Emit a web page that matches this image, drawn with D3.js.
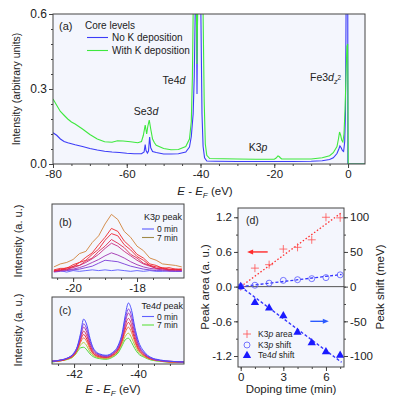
<!DOCTYPE html>
<html>
<head>
<meta charset="utf-8">
<script src="https://cdn.jsdelivr.net/npm/d3@7"></script>
<style>
  body { margin: 0; background: #fff; }
  svg { font-family: Helvetica, Arial, "Liberation Sans", sans-serif; }
  .bg { fill: #f4f6fd; }
  .frame { fill: none; stroke: #444; stroke-width: 1; }
  .axis path { display: none; }
  .axis line { stroke: #444; }
  .axis text { fill: #222; }
</style>
</head>
<body>
<svg id="fig" width="399" height="403"></svg>
<script>
// ---------- data ----------
// (a) core level survey, [E - EF (eV), intensity]
const noKCurve = [[-80,0.125],[-79,0.115],[-78,0.1],[-77,0.09],[-76,0.085],[-74,0.077],[-72,0.07],[-70,0.062],[-68,0.056],[-66,0.051],[-64,0.048],[-62,0.046],[-60,0.043],[-58,0.041],[-56,0.041],[-55.3,0.048],[-55.0,0.078],[-54.8,0.055],[-54.4,0.044],[-54.1,0.052],[-53.8,0.108],[-53.5,0.065],[-53.0,0.05],[-52,0.046],[-50,0.04],[-48,0.04],[-46,0.041],[-44,0.048],[-43,0.068],[-42.5,0.11],[-42.0,0.2],[-41.7,0.35],[-41.45,0.6],[-41.3,0.9],[-41.1,0.6],[-40.95,0.28],[-40.8,0.6],[-40.4,1.0],[-39.9,0.6],[-39.6,0.2],[-39.3,0.07],[-38.9,0.025],[-38.3,0.012],[-36,0.011],[-30,0.01],[-25,0.01],[-20,0.01],[-15,0.01],[-10,0.011],[-7,0.013],[-5,0.018],[-4,0.025],[-3,0.042],[-2.5,0.06],[-2.2,0.072],[-1.9,0.066],[-1.5,0.053],[-1.2,0.05],[-0.9,0.09],[-0.7,0.2],[-0.5,0.7],[-0.3,1.0],[-0.08,1.0],[-0.05,0.0],[4.6,0.0]];
const withKCurve = [[-80,0.26],[-79,0.235],[-78,0.21],[-77,0.195],[-76,0.18],[-75,0.168],[-74,0.16],[-72,0.14],[-70,0.118],[-68,0.1],[-66,0.089],[-64,0.087],[-62.5,0.093],[-61,0.092],[-59,0.089],[-57,0.085],[-56,0.09],[-55.5,0.115],[-55.0,0.156],[-54.6,0.12],[-54.3,0.15],[-53.9,0.176],[-53.5,0.14],[-53.0,0.1],[-52.5,0.085],[-52,0.075],[-50,0.062],[-48,0.057],[-46,0.058],[-44,0.07],[-43,0.1],[-42.5,0.17],[-42.2,0.35],[-42.0,0.6],[-41.6,1.0],[-41.1,0.6],[-40.95,0.4],[-40.8,0.6],[-40.2,1.0],[-39.3,0.6],[-39.0,0.25],[-38.7,0.08],[-38.3,0.035],[-37.5,0.022],[-30,0.02],[-25,0.019],[-20,0.019],[-19.5,0.024],[-19.0,0.032],[-18.7,0.03],[-18.3,0.024],[-18.0,0.02],[-15,0.02],[-10,0.02],[-7,0.025],[-5,0.033],[-4,0.045],[-3,0.07],[-2.6,0.1],[-2.3,0.128],[-2.0,0.115],[-1.7,0.095],[-1.4,0.088],[-1.1,0.12],[-0.8,0.22],[-0.5,0.38],[-0.3,0.47],[-0.1,0.48],[-0.02,0.3],[0.05,0.0],[4.6,0.0]];

// (b) K3p peak vs doping time (0..7 min)
const k3pEnergy = [-20.6,-20.4,-20.2,-20.0,-19.8,-19.6,-19.4,-19.2,-19.0,-18.8,-18.6,-18.4,-18.2,-18.0,-17.8,-17.6,-17.4,-17.2,-17.0,-16.8,-16.6];
const k3pSpectra = [
  [9,10,8,10,9,10,11,10,11,10,11,10,9,10,9,10,9,9,10,9,9],
  [8,9,10,11,12,14,16,20,24,23,22,19,16,14,12,11,10,10,9,9,9],
  [9,10,11,12,14,17,21,25,30,34,31,27,22,18,15,13,12,11,10,10,10],
  [9,10,12,14,17,21,26,32,40,47,43,36,30,24,19,16,13,12,11,11,10],
  [9,12,11,16,17,23,27,36,43,52,47,41,32,27,20,17,13,13,11,12,11],
  [10,11,14,15,21,24,32,39,51,60,57,45,38,29,24,17,15,14,12,11,12],
  [11,13,13,18,21,28,34,45,55,67,63,50,42,32,27,19,17,13,14,12,12],
  [15,19,21,25,33,36,48,57,73,86,79,63,55,43,37,27,24,19,18,17,15]
];
const k3pColors = ['#5a5aff','#7a3ad8','#a032b0','#c82a80','#e02850','#ee2234','#f0282a','#d0823a'];

// (c) Te4d peak vs doping time (0..7 min)
const te4dEnergy = [-42.7,-42.4,-42.2,-42.0,-41.9,-41.8,-41.7,-41.6,-41.5,-41.4,-41.2,-41.0,-40.8,-40.6,-40.5,-40.4,-40.3,-40.2,-40.1,-40.0,-39.8,-39.6,-39.3,-39.0,-38.55];
const te4dSpectra = [
  [4,6,9,17,26,45,67,58,38,24,15,13,17,30,45,72,91,80,55,36,18,10,6,4,3],
  [4,6,9,16,25,42,60,52,34,22,14,12,16,28,42,66,82,72,50,32,16,9,5,4,3],
  [4,6,9,15,24,40,55,47,31,20,13,11,15,26,40,62,76,66,46,30,15,9,5,4,3],
  [4,6,8,14,23,37,49,42,28,18,12,10,14,25,37,57,68,59,41,27,14,8,5,4,3],
  [4,5,8,14,22,35,44,37,25,16,11,10,13,23,35,52,62,53,37,24,13,8,5,3,3],
  [4,5,8,13,21,32,39,33,22,15,10,9,12,22,33,47,55,47,33,22,12,7,5,3,3],
  [3,5,7,12,19,28,32,27,18,13,9,8,11,20,30,41,46,39,28,19,11,7,4,3,3],
  [3,5,7,12,18,24,25,21,15,11,8,7,10,18,27,36,38.5,32,23,16,10,6,4,3,3]
];
const te4dColors = ['#4a4aff','#8a40e0','#b03aa0','#d83060','#f02830','#f07040','#b8c838','#50d840'];

// (d) peak area / shifts vs doping time
const dopingTime = [0,1,2,3,4,5,6,7];
const k3pArea = [0,0.32,0.38,0.65,0.68,0.81,1.2,1.19];
const k3pShift = [0,2,5,9,10,11.5,13,17];
const te4dShift = [0,-23,-31,-42,-66,-81,-94,-99];
const fitTime = [0,7.1];
const k3pAreaFit = [0,1.28];
const k3pShiftFit = [0,17.5];
const te4dShiftFit = [0,-109];

// ---------- helpers ----------
const svg = d3.select('#fig');
const frames = [];

function panel(id, x0, x1, y0, y1) {
  svg.append('rect').attr('class', 'bg')
    .attr('x', x0).attr('y', y0).attr('width', x1 - x0).attr('height', y1 - y0);
  svg.append('clipPath').attr('id', id).append('rect')
    .attr('x', x0).attr('y', y0).attr('width', x1 - x0).attr('height', y1 - y0);
  frames.push([x0, x1, y0, y1]);
  return svg.append('g').attr('clip-path', `url(#${id})`);
}

// make = () => fresh d3 axis generator
function axis(make, pos, major, minor, fmt, size) {
  svg.append('g').attr('class', 'axis').attr('transform', pos)
    .call(make().tickValues(minor).tickSize(2).tickFormat(''));
  svg.append('g').attr('class', 'axis').attr('transform', pos)
    .call(make().tickValues(major).tickSize(4).tickPadding(2).tickFormat(fmt))
    .selectAll('text').style('font-size', size + 'px');
}

function range(a, b, s) {
  return d3.range(a, b + s / 2, s).map(v => +v.toFixed(3));
}

// rich text: parts = [[text, style]], style: i italic, sub, sup, back
function rich(sel, parts) {
  parts.forEach(([t, s]) => {
    const ts = sel.append('tspan').text(t);
    if (s && s.includes('i')) ts.style('font-style', 'italic');
    if (s && s.includes('sub')) ts.attr('dy', 3).style('font-size', '0.7em');
    if (s && s.includes('back')) ts.attr('dy', -3);
    if (s && s.includes('sup')) ts.attr('dy', -4).style('font-size', '0.6em');
  });
  return sel;
}

function label(x, y, size, parts, anchor, rotate) {
  const t = svg.append('text').attr('x', x).attr('y', y)
    .style('font-size', size + 'px').attr('fill', '#222')
    .attr('text-anchor', anchor || 'start');
  if (rotate) t.attr('transform', `rotate(-90,${x},${y})`);
  return rich(t, parts);
}

const hyphen = d => String(d);

// ---------- panel (a) ----------
const xA = d3.scaleLinear().domain([-80, 4.6]).range([53, 365]);
const yA = d3.scaleLinear().domain([0, 0.6]).range([164, 14]);
const gA = panel('clipA', 53, 365, 14, 164);
const lineA = d3.line().x(d => xA(d[0])).y(d => yA(d[1]));
gA.append('path').datum(noKCurve).attr('d', lineA)
  .attr('fill', 'none').attr('stroke', '#3c3cf8').attr('stroke-width', 1.1);
gA.append('path').datum(withKCurve).attr('d', lineA)
  .attr('fill', 'none').attr('stroke', '#3ee83e').attr('stroke-width', 1.1);

axis(() => d3.axisBottom(xA), 'translate(0,164)', [-80, -60, -40, -20, 0], range(-80, 0, 5), hyphen, 11.5);
axis(() => d3.axisLeft(yA), 'translate(53,0)', [0, 0.3, 0.6], range(0, 0.6, 0.06), d => d.toFixed(1), 12);

label(20, 89, 10.5, [['Intensity (arbitrary units)']], 'middle', true);
label(205, 195, 11.5, [['E', 'i'], [' - '], ['E', 'i'], ['F', 'i sub'], ['  (eV)', 'back']], 'middle');
label(59, 30, 11, [['(a)']]);
label(85, 29, 10, [['Core levels']]);
label(112, 41, 10, [['No K deposition']]);
label(112, 54, 10, [['With K deposition']]);
svg.append('line').attr('x1', 87).attr('x2', 108).attr('y1', 37.5).attr('y2', 37.5)
  .attr('stroke', '#3c3cf8').attr('stroke-width', 1.1);
svg.append('line').attr('x1', 87).attr('x2', 108).attr('y1', 50.5).attr('y2', 50.5)
  .attr('stroke', '#3ee83e').attr('stroke-width', 1.1);
label(146, 115, 10.5, [['Se3'], ['d', 'i']], 'middle');
label(174, 84, 10.5, [['Te4'], ['d', 'i']], 'middle');
label(258, 151, 10.5, [['K3'], ['p', 'i']], 'middle');
label(310, 81, 10.5, [['Fe3'], ['d', 'i'], ['z', 'i sub'], ['2', 'sup']]);

// ---------- panel (b) ----------
const xB = d3.scaleLinear().domain([-20.66, -16.53]).range([52, 184]);
const yB = d3.scaleLinear().domain([0, 100]).range([278, 204]);
const gB = panel('clipB', 52, 184, 204, 278);
k3pSpectra.forEach((s, i) => {
  gB.append('path')
    .datum(s.map((v, j) => [k3pEnergy[j], v]))
    .attr('d', d3.line().x(d => xB(d[0])).y(d => yB(d[1])))
    .attr('fill', 'none').attr('stroke', k3pColors[i]).attr('stroke-width', 0.9);
});
axis(() => d3.axisBottom(xB), 'translate(0,278)', [-20, -18], range(-20.5, -17, 0.5), hyphen, 11.5);
label(22, 241, 11, [['Intensity (a. u.)']], 'middle', true);
label(59, 226, 10.5, [['(b)']]);
label(182, 219.5, 9, [['K3'], ['p', 'i'], [' peak']], 'end');
label(157, 232, 8.5, [['0 min']]);
label(157, 240.5, 8.5, [['7 min']]);
svg.append('line').attr('x1', 142).attr('x2', 154).attr('y1', 229).attr('y2', 229)
  .attr('stroke', k3pColors[0]).attr('stroke-width', 1.1);
svg.append('line').attr('x1', 142).attr('x2', 154).attr('y1', 237.5).attr('y2', 237.5)
  .attr('stroke', '#a08a48').attr('stroke-width', 1.1);

// ---------- panel (c) ----------
const xC = d3.scaleLinear().domain([-42.69, -38.56]).range([52, 184]);
const yC = d3.scaleLinear().domain([0, 100]).range([364, 297]);
const gC = panel('clipC', 52, 184, 297, 364);
te4dSpectra.slice().reverse().forEach((s, k) => {
  const i = te4dSpectra.length - 1 - k;
  gC.append('path')
    .datum(s.map((v, j) => [te4dEnergy[j], v]))
    .attr('d', d3.line().curve(d3.curveMonotoneX).x(d => xC(d[0])).y(d => yC(d[1])))
    .attr('fill', 'none').attr('stroke', te4dColors[i]).attr('stroke-width', 1);
});
axis(() => d3.axisBottom(xC), 'translate(0,364)', [-42, -40], range(-42.5, -39, 0.5), hyphen, 11.5);
label(22, 330, 11, [['Intensity (a. u.)']], 'middle', true);
label(113, 393, 11.5, [['E', 'i'], [' - '], ['E', 'i'], ['F', 'i sub'], ['  (eV)', 'back']], 'middle');
label(59, 314, 10.5, [['(c)']]);
label(183, 308.5, 9, [['Te4'], ['d', 'i'], [' peak']], 'end');
label(157, 319.5, 8.5, [['0 min']]);
label(157, 328, 8.5, [['7 min']]);
svg.append('line').attr('x1', 142).attr('x2', 154).attr('y1', 316.5).attr('y2', 316.5)
  .attr('stroke', '#6060ff').attr('stroke-width', 1.1);
svg.append('line').attr('x1', 142).attr('x2', 154).attr('y1', 325).attr('y2', 325)
  .attr('stroke', '#60e040').attr('stroke-width', 1.1);

// ---------- panel (d) ----------
const xD = d3.scaleLinear().domain([-0.19, 7.27]).range([238, 344]);
const yD = d3.scaleLinear().domain([-1.39, 1.36]).range([367, 208]);
const yD2 = d3.scaleLinear().domain([-1.39 / 1.2 * 100, 1.36 / 1.2 * 100]).range([367, 208]);
const gD = panel('clipD', 238, 344, 208, 367);
gD.append('line').attr('x1', 238).attr('x2', 344).attr('y1', yD(0)).attr('y2', yD(0))
  .attr('stroke', '#555').attr('stroke-width', 1);

const fitLine = (vals, y) => gD.append('path')
  .datum(fitTime.map((t, i) => [t, vals[i]]))
  .attr('d', d3.line().x(d => xD(d[0])).y(d => y(d[1])))
  .attr('fill', 'none').attr('stroke-width', 1.3);
fitLine(k3pAreaFit, yD).attr('stroke', '#ff3030').attr('stroke-dasharray', '1.5,2');
fitLine(k3pShiftFit, yD2).attr('stroke', '#3535ff').attr('stroke-dasharray', '3,2');
fitLine(te4dShiftFit, yD2).attr('stroke', '#3535ff').attr('stroke-dasharray', '3,2');

const plus = 'M-4,0H4M0,-4V4';
gD.selectAll('.area-pt').data(dopingTime).join('path')
  .attr('class', 'area-pt').attr('d', plus)
  .attr('transform', (t, i) => `translate(${xD(t)},${yD(k3pArea[i])})`)
  .attr('stroke', '#ff5050').attr('stroke-width', 0.8).attr('fill', 'none');
gD.selectAll('.shift-pt').data(dopingTime).join('circle')
  .attr('class', 'shift-pt').attr('r', 3)
  .attr('cx', t => xD(t)).attr('cy', (t, i) => yD2(k3pShift[i]))
  .attr('stroke', '#5555ff').attr('stroke-width', 0.8).attr('fill', 'none');
const tri = d3.symbol().type(d3.symbolTriangle).size(30);
gD.selectAll('.te-pt').data(dopingTime).join('path')
  .attr('class', 'te-pt').attr('d', tri)
  .attr('transform', (t, i) => `translate(${xD(t)},${yD2(te4dShift[i])})`)
  .attr('fill', '#1a1aff');

// arrows pointing to the axis each series belongs to
const areaArrow = [1.9, 0.45, 0.6];
const shiftArrow = [4.9, 6.2, -50];
function arrow(x1, x2, y, color) {
  const dir = Math.sign(x2 - x1);
  svg.append('line').attr('x1', x1).attr('x2', x2 - dir * 5).attr('y1', y).attr('y2', y)
    .attr('stroke', color).attr('stroke-width', 1.4);
  svg.append('path')
    .attr('d', `M${x2},${y}L${x2 - dir * 6},${y - 2.5}L${x2 - dir * 6},${y + 2.5}Z`)
    .attr('fill', color);
}
arrow(xD(areaArrow[0]), xD(areaArrow[1]), yD(areaArrow[2]), '#ff2a2a');
arrow(xD(shiftArrow[0]), xD(shiftArrow[1]), yD2(shiftArrow[2]), '#2a5aff');

axis(() => d3.axisBottom(xD), 'translate(0,367)', [0, 3, 6], range(0, 7, 1), hyphen, 11.5);
axis(() => d3.axisLeft(yD), 'translate(238,0)', [-1.2, -0.6, 0, 0.6, 1.2], range(-1.2, 1.2, 0.3), d => d.toFixed(1), 11.5);
axis(() => d3.axisRight(yD2), 'translate(344,0)', [-100, -50, 0, 50, 100], range(-100, 100, 25), hyphen, 11.5);

label(209, 287, 11.5, [['Peak area (a. u.)']], 'middle', true);
label(384, 287, 11.5, [['Peak shift (meV)']], 'middle', true);
label(291, 393, 11.5, [['Doping time (min)']], 'middle');
label(246, 224, 10.5, [['(d)']]);

svg.append('path').attr('d', plus).attr('transform', 'translate(247,334)')
  .attr('stroke', '#ff5050').attr('stroke-width', 0.8);
svg.append('circle').attr('cx', 247).attr('cy', 345).attr('r', 3)
  .attr('stroke', '#5555ff').attr('stroke-width', 0.8).attr('fill', 'none');
svg.append('path').attr('d', tri).attr('transform', 'translate(247,355.5)').attr('fill', '#1a1aff');
label(258, 337, 8.5, [['K3'], ['p', 'i'], [' area']]);
label(258, 348, 8.5, [['K3'], ['p', 'i'], [' shift']]);
label(258, 358, 8.5, [['Te4'], ['d', 'i'], [' shift']]);

// frames on top
frames.forEach(([x0, x1, y0, y1]) => {
  svg.append('rect').attr('class', 'frame')
    .attr('x', x0).attr('y', y0).attr('width', x1 - x0).attr('height', y1 - y0);
});
</script>
</body>
</html>
